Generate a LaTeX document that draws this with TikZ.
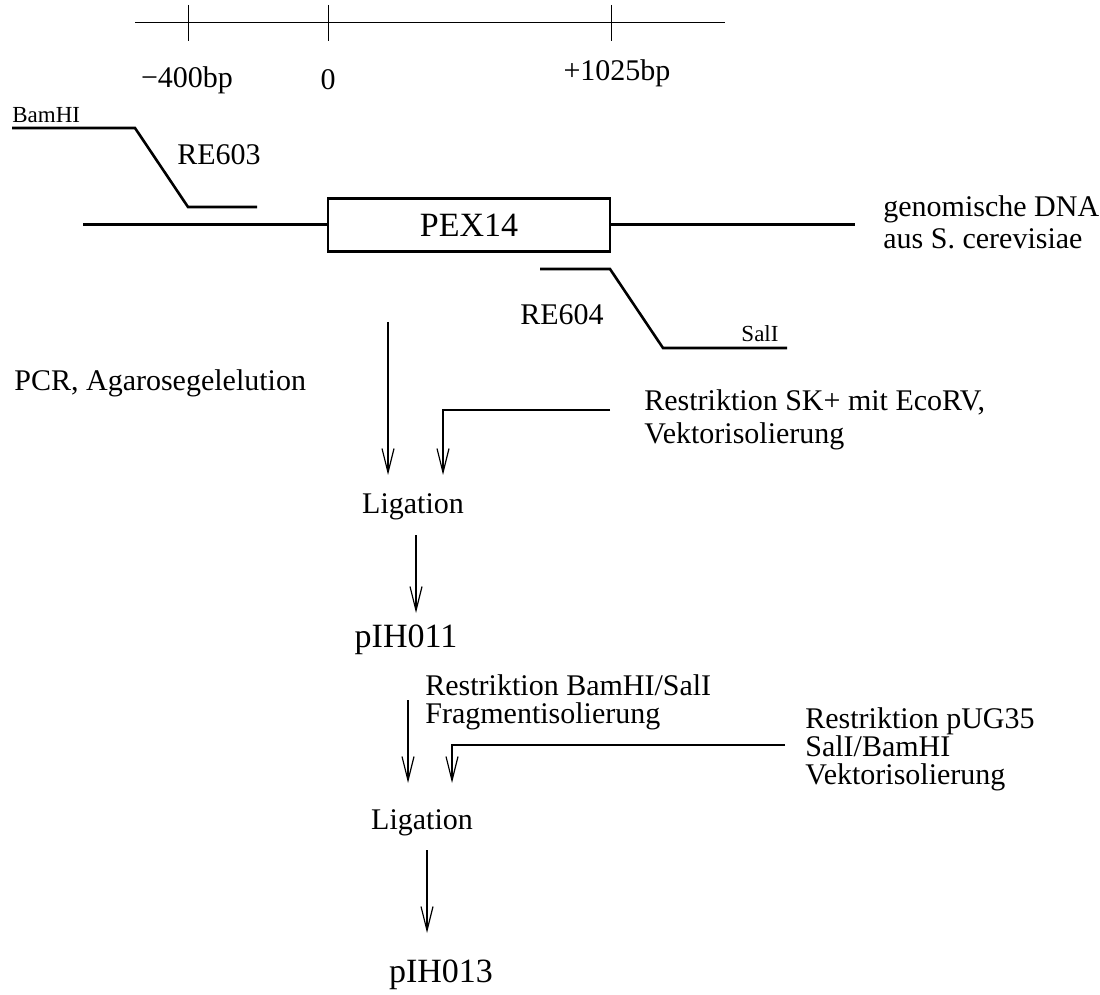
\documentclass[tikz,border=0pt]{standalone}
\usepackage{fontspec}
\setmainfont{Liberation Serif}
\usetikzlibrary{arrows.meta}
\tikzset{
	txt_n/.style = {inner sep=0pt, font=\fontsize{15}{17}\selectfont},% texte normal
	txt_s/.style = {inner sep=0pt, font=\fontsize{11.5}{13}\selectfont},% petit texte
	txt_l/.style = {inner sep=0pt, font=\fontsize{17}{19}\selectfont},% grand texte
	dna/.style = {line width=1.5pt},
	primer/.style = {line width=1.3pt, line join=miter},
	flow/.style = {line width=1pt, -{Straight Barb[length=12pt, width=6pt, line width=0.6pt]}}
}

\begin{document}
\begin{tikzpicture}[x=0.5pt, y=-0.5pt]
		\useasboundingbox (0,0) rectangle (1100,995);
		% echelle
		\draw[line width=0.5pt] (135,23) -- (725,23);
		\foreach \name/\x in {m400/188, zero/328, p1025/611}
			\draw[line width=0.5pt] (\x,5) coordinate (\name) -- (\x,41);
		\node[txt_n] (l_m400) at (187,80) {−400bp};
		\node[txt_n] (l_zero) at (328,80) {0};
		\node[txt_n] (l_p1025) at (617,73) {+1025bp};
		% genomische DNA
		\node[txt_l, draw, line width=1.2pt, minimum width=141pt, minimum height=26.5pt] (pex) at (469,225) {PEX14};
		\draw[dna] (83,225) -- (pex.west);
		\draw[dna] (pex.east) -- (855,225);
		\node[txt_n, anchor=west, align=left, font=\fontsize{15}{16}\selectfont] (genom) at (883,222) {genomische DNA\\aus S. cerevisiae};
		% primers
		\draw[primer] (12,128) -- (135,128) -- (188,207) -- (257,207);
		\node[txt_s, anchor=west] (bam) at (12,115) {BamHI};
		\node[txt_n] (re603) at (219,155) {RE603};
		\draw[primer] (540,269) -- (610,269) -- (663,348) -- (787,348);
		\node[txt_n] (re604) at (562,315) {RE604};
		\node[txt_s] (sal) at (760,334) {SalI};
		% premiere ligation
		\node[txt_n, anchor=west] (pcr) at (14,383) {PCR, Agarosegelelution};
		\node[txt_n, anchor=west, align=left, font=\fontsize{15}{16.5}\selectfont] (sk) at (644,420) {Restriktion SK+ mit EcoRV,\\Vektorisolierung};
		\node[txt_n] (lig1) at (413,507) {Ligation};
		\node[txt_l] (pih011) at (406,640) {pIH011};
		\coordinate (a1) at (388,322);
		\coordinate (a1e) at (388,475);
		\coordinate (a2) at (610,410);
		\coordinate (a2e) at (443,475);
		\coordinate (a3) at (416,535);
		\coordinate (a3e) at (416,613);
		\draw[flow] (a1) -- (a1e);
		\draw[flow] (a2) -| (a2e);
		\draw[flow] (a3) -- (a3e);
		% deuxieme ligation
		\node[txt_n, anchor=west, align=left, font=\fontsize{15}{14}\selectfont] (bamsal) at (425,702) {Restriktion BamHI/SalI\\Fragmentisolierung};
		\node[txt_n, anchor=west, align=left, font=\fontsize{15}{14}\selectfont] (pug) at (805,749) {Restriktion pUG35\\SalI/BamHI\\Vektorisolierung};
		\node[txt_n] (lig2) at (422,823) {Ligation};
		\node[txt_l] (pih013) at (441,975) {pIH013};
		\coordinate (a4) at (408,700);
		\coordinate (a4e) at (408,783);
		\coordinate (a5) at (785,745);
		\coordinate (a5e) at (452,783);
		\coordinate (a6) at (427,850);
		\coordinate (a6e) at (427,933);
		\draw[flow] (a4) -- (a4e);
		\draw[flow] (a5) -| (a5e);
		\draw[flow] (a6) -- (a6e);
\end{tikzpicture}
\end{document}
